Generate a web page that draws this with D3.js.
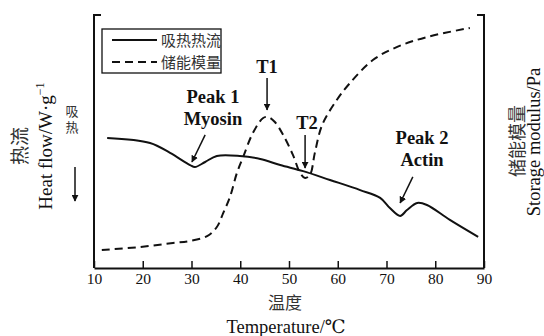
<!DOCTYPE html>
<html>
<head>
<meta charset="utf-8">
<title>DSC / storage modulus</title>
<script src="https://cdn.jsdelivr.net/npm/d3@7"></script>
<style>
body { margin: 0; background: #fff; }
text { font-family: "Times New Roman", "Liberation Serif", "DejaVu Serif", serif; fill: #111; }
.cjk { font-family: "Noto Sans CJK SC", sans-serif; fill: #333; }
.ann { font-weight: bold; font-size: 18.5px; }
</style>
</head>
<body>
<script>
// heat flow (solid) - temperature / relative value
var heatT = [12.7, 21.5, 25.6, 29.7, 30.7, 32.8, 35.2, 39.9, 44.1, 48.2, 52.9, 58.4, 64.6, 68.7, 70.7, 72.8, 74.2, 76.3, 78.3, 83.0, 88.8];
var heatV = [51.4, 49.4, 45.5, 40.7, 39.9, 41.9, 44.3, 44.3, 43.1, 40.7, 38.3, 34.8, 30.8, 27.7, 23.7, 20.6, 22.9, 25.7, 24.9, 19.0, 12.3];
// storage modulus (dashed)
var modT = [11.6, 19.4, 26.2, 29.7, 33.2, 35.2, 36.5, 37.9, 39.3, 40.6, 42.6, 44.7, 45.7, 47.1, 48.8, 50.8, 52.3, 53.3, 54.3, 55.3, 56.8, 59.8, 62.5, 67.2, 72.2, 78.3, 87.1];
var modV = [7.1, 8.3, 9.9, 10.7, 12.6, 16.2, 21.7, 28.1, 37.5, 43.9, 53.4, 59.3, 59.7, 57.7, 52.6, 44.7, 37.5, 35.6, 36.8, 45.5, 56.5, 66.4, 73.1, 82.2, 87.4, 91.3, 94.9];
var xTicks = [10, 20, 30, 40, 50, 60, 70, 80, 90];
var legendNames = ["吸热热流", "储能模量"];

// annotations: label lines, text anchor (T, v), arrow from/to (T, v)
var annLines = [["Peak 1", "Myosin"], ["T1"], ["T2"], ["Peak 2", "Actin"]];
var annPos = [[34.4, 65.2], [45.5, 77.1], [53.7, 54.9], [77.3, 49.0]];
var annArrow = [[32.8, 52.6, 30.1, 41.9], [45.5, 75.1, 45.5, 62.5], [53.3, 52.6, 53.3, 39.5], [75.4, 36.0, 72.8, 25.7]];

var W = 544, H = 336;
var x = d3.scaleLinear().domain([10, 90]).range([94, 484]);
var y = d3.scaleLinear().domain([0, 100]).range([268, 15]);

var svg = d3.select("body").append("svg")
    .attr("width", W)
    .attr("height", H);

svg.append("defs").append("marker")
    .attr("id", "arr")
    .attr("viewBox", "0 0 10 10")
    .attr("refX", 9).attr("refY", 5)
    .attr("markerWidth", 7).attr("markerHeight", 7)
    .attr("markerUnits", "userSpaceOnUse")
    .attr("orient", "auto")
    .append("path")
    .attr("d", "M0,0L10,5L0,10z")
    .attr("fill", "#111");

// frame: left & right bracket
svg.append("path")
    .attr("d", "M" + (x(10) + 7) + "," + y(100) + "H" + x(10) + "V" + y(0))
    .attr("fill", "none").attr("stroke", "#111").attr("stroke-width", 2);
svg.append("path")
    .attr("d", "M" + (x(90) - 7) + "," + y(100) + "H" + x(90) + "V" + y(0))
    .attr("fill", "none").attr("stroke", "#111").attr("stroke-width", 2);

var xAxis = d3.axisBottom(x).tickValues(xTicks).tickSizeInner(-7).tickSizeOuter(0).tickPadding(5);
var gx = svg.append("g").attr("transform", "translate(0," + y(0) + ")").call(xAxis);
gx.select(".domain").attr("stroke", "#111").attr("stroke-width", 2);
gx.selectAll(".tick line").attr("stroke", "#111").attr("stroke-width", 1.5);
gx.selectAll(".tick text")
    .attr("font-family", "'Times New Roman', 'Liberation Serif', 'DejaVu Serif', serif")
    .attr("font-size", 15.5).attr("fill", "#111");

var line = d3.line()
    .x(function(d) { return x(d[0]); })
    .y(function(d) { return y(d[1]); })
    .curve(d3.curveCatmullRom.alpha(0.5));

svg.append("path")
    .datum(d3.zip(heatT, heatV))
    .attr("d", line)
    .attr("fill", "none").attr("stroke", "#111").attr("stroke-width", 2);

svg.append("path")
    .datum(d3.zip(modT, modV))
    .attr("d", line)
    .attr("fill", "none").attr("stroke", "#111").attr("stroke-width", 2)
    .attr("stroke-dasharray", "8,5");

// legend
svg.append("rect")
    .attr("x", 102).attr("y", 29).attr("width", 119).attr("height", 44)
    .attr("fill", "#fff").attr("stroke", "#111").attr("stroke-width", 1.3);
legendNames.forEach(function(name, i) {
  var ly = 40 + i * 22;
  svg.append("line")
      .attr("x1", 112).attr("x2", 157).attr("y1", ly).attr("y2", ly)
      .attr("stroke", "#111").attr("stroke-width", 2)
      .attr("stroke-dasharray", i == 1 ? "8,5" : null);
  svg.append("text").attr("class", "cjk")
      .attr("x", 161).attr("y", ly + 5.5)
      .attr("font-size", 15)
      .text(name);
});

// annotations
annLines.forEach(function(lines, i) {
  lines.forEach(function(t, j) {
    svg.append("text").attr("class", "ann")
        .attr("x", x(annPos[i][0]))
        .attr("y", y(annPos[i][1]) + j * 22)
        .attr("text-anchor", "middle")
        .text(t);
  });
  var a = annArrow[i];
  svg.append("line")
      .attr("x1", x(a[0])).attr("y1", y(a[1]))
      .attr("x2", x(a[2])).attr("y2", y(a[3]))
      .attr("stroke", "#111").attr("stroke-width", 1.5)
      .attr("marker-end", "url(#arr)");
});

// axis titles
svg.append("text").attr("class", "cjk")
    .attr("x", 285).attr("y", 309)
    .attr("text-anchor", "middle").attr("font-size", 17)
    .text("温度");
svg.append("text")
    .attr("x", 286).attr("y", 333)
    .attr("text-anchor", "middle").attr("font-size", 18.5)
    .text("Temperature/℃");

svg.append("text").attr("class", "cjk")
    .attr("transform", "translate(27,146) rotate(-90)")
    .attr("text-anchor", "middle").attr("font-size", 19)
    .text("热流");
var hf = svg.append("text")
    .attr("transform", "translate(52,146) rotate(-90)")
    .attr("text-anchor", "middle").attr("font-size", 19);
hf.append("tspan").text("Heat  flow/W·g");
hf.append("tspan").attr("font-size", 12).attr("dy", -8).text("−1");

// "吸热" stacked upright, one text in vertical writing mode
svg.append("text").attr("class", "cjk")
    .attr("x", 72).attr("y", 121)
    .attr("writing-mode", "vertical-rl")
    .attr("text-anchor", "middle")
    .attr("letter-spacing", 3)
    .attr("font-size", 13)
    .text("吸热");
svg.append("line")
    .attr("x1", 75).attr("y1", 167).attr("x2", 75).attr("y2", 201)
    .attr("stroke", "#111").attr("stroke-width", 1.5)
    .attr("marker-end", "url(#arr)");

svg.append("text").attr("class", "cjk")
    .attr("transform", "translate(524,141) rotate(-90)")
    .attr("text-anchor", "middle").attr("font-size", 18)
    .text("储能模量");
svg.append("text")
    .attr("transform", "translate(540,142) rotate(-90)")
    .attr("text-anchor", "middle").attr("font-size", 18.5)
    .text("Storage  modulus/Pa");
</script>
</body>
</html>
